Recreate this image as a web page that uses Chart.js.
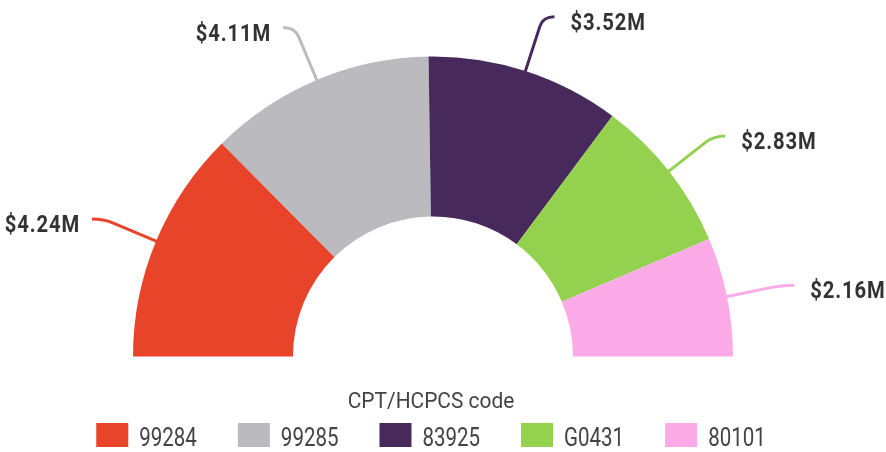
<!DOCTYPE html>
<html>
<head>
<meta charset="utf-8">
<script src="https://cdn.jsdelivr.net/npm/chart.js@4.4.1/dist/chart.umd.min.js"></script>
<style>
  html, body { margin: 0; padding: 0; background: #ffffff; }
  #wrap { width: 886px; height: 452px; }
</style>
</head>
<body>
<div id="wrap"><canvas id="c" width="886" height="452"></canvas></div>
<script>
// Paid amount by procedure code, in millions of dollars
const codes = ['99284', '99285', '83925', 'G0431', '80101'];
const paidMillions = [4.24, 4.11, 3.52, 2.83, 2.16];
const sliceColors = ['#E8442A', '#BBBBBF', '#472A5B', '#93D14F', '#FCAAE8'];
const legendTitle = 'CPT/HCPCS code';

const fmtMoney = v => '$' + v.toFixed(2) + 'M';

// Draw text squeezed horizontally to get a condensed look
function condensedText(ctx, text, x, y, align, sx) {
  ctx.save();
  ctx.translate(x, y);
  ctx.scale(sx, 1);
  ctx.textAlign = align;
  ctx.fillText(text, 0, 0);
  ctx.restore();
}

// Leader lines and value labels outside each slice
const outsideLabels = {
  id: 'outsideLabels',
  afterDatasetsDraw(chart) {
    const ctx = chart.ctx;
    const meta = chart.getDatasetMeta(0);
    const values = chart.data.datasets[0].data;
    meta.data.forEach((arc, i) => {
      const p = arc.getProps(['x', 'y', 'startAngle', 'endAngle', 'outerRadius'], true);
      const mid = (p.startAngle + p.endAngle) / 2;
      const cos = Math.cos(mid), sin = Math.sin(mid);
      const at = r => [p.x + cos * r, p.y + sin * r];
      const right = cos >= 0;
      const start = at(p.outerRadius - 2);
      const pre = at(p.outerRadius + 47);
      const bend = at(p.outerRadius + 57);
      const endX = bend[0] + (right ? 11.5 : -11.5);
      const endY = bend[1];

      ctx.save();
      ctx.strokeStyle = sliceColors[i];
      ctx.lineWidth = 3;
      ctx.lineJoin = 'round';
      ctx.beginPath();
      ctx.moveTo(start[0], start[1]);
      ctx.lineTo(pre[0], pre[1]);
      ctx.quadraticCurveTo(bend[0], bend[1], endX, endY);
      ctx.stroke();

      ctx.fillStyle = '#333333';
      ctx.font = 'bold 23px Roboto';
      ctx.textBaseline = 'alphabetic';
      if ('letterSpacing' in ctx) ctx.letterSpacing = '1px';
      const tx = right ? endX + 16 : endX - 12;
      condensedText(ctx, fmtMoney(values[i]), tx, endY + 13.3, right ? 'left' : 'right', 0.88);
      ctx.restore();
    });
  }
};

// Legend with title below the half ring
const bottomLegend = {
  id: 'bottomLegend',
  afterDraw(chart) {
    const ctx = chart.ctx;
    const cx = 431;
    ctx.save();
    ctx.fillStyle = '#444444';
    ctx.textBaseline = 'alphabetic';
    ctx.font = '22px Roboto';
    condensedText(ctx, legendTitle, cx, 408.3, 'center', 0.95);

    const labels = chart.data.labels;
    const boxW = 32, boxH = 24, gap = 11, spacing = 41, sx = 0.82;
    ctx.font = '25px Roboto';
    const widths = labels.map(t => ctx.measureText(t).width * sx);
    const itemW = widths.map(w => boxW + gap + w);
    const total = itemW.reduce((a, b) => a + b, 0) + spacing * (labels.length - 1);
    let x = cx - total / 2;
    labels.forEach((t, i) => {
      ctx.fillStyle = sliceColors[i];
      ctx.fillRect(x, 423, boxW, boxH);
      ctx.fillStyle = '#444444';
      condensedText(ctx, t, x + boxW + gap, 446, 'left', sx);
      x += itemW[i] + spacing;
    });
    ctx.restore();
  }
};

new Chart(document.getElementById('c'), {
  type: 'doughnut',
  data: {
    labels: codes,
    datasets: [{
      data: paidMillions,
      backgroundColor: sliceColors,
      borderWidth: 0,
      hoverOffset: 0
    }]
  },
  options: {
    responsive: false,
    animation: false,
    devicePixelRatio: 1,
    rotation: -90,
    circumference: 180,
    cutout: '46.67%',
    layout: { padding: { left: 0, right: 20, top: 56.5, bottom: 95.5 } },
    plugins: {
      legend: { display: false },
      tooltip: { enabled: false }
    }
  },
  plugins: [outsideLabels, bottomLegend]
});
</script>
</body>
</html>
